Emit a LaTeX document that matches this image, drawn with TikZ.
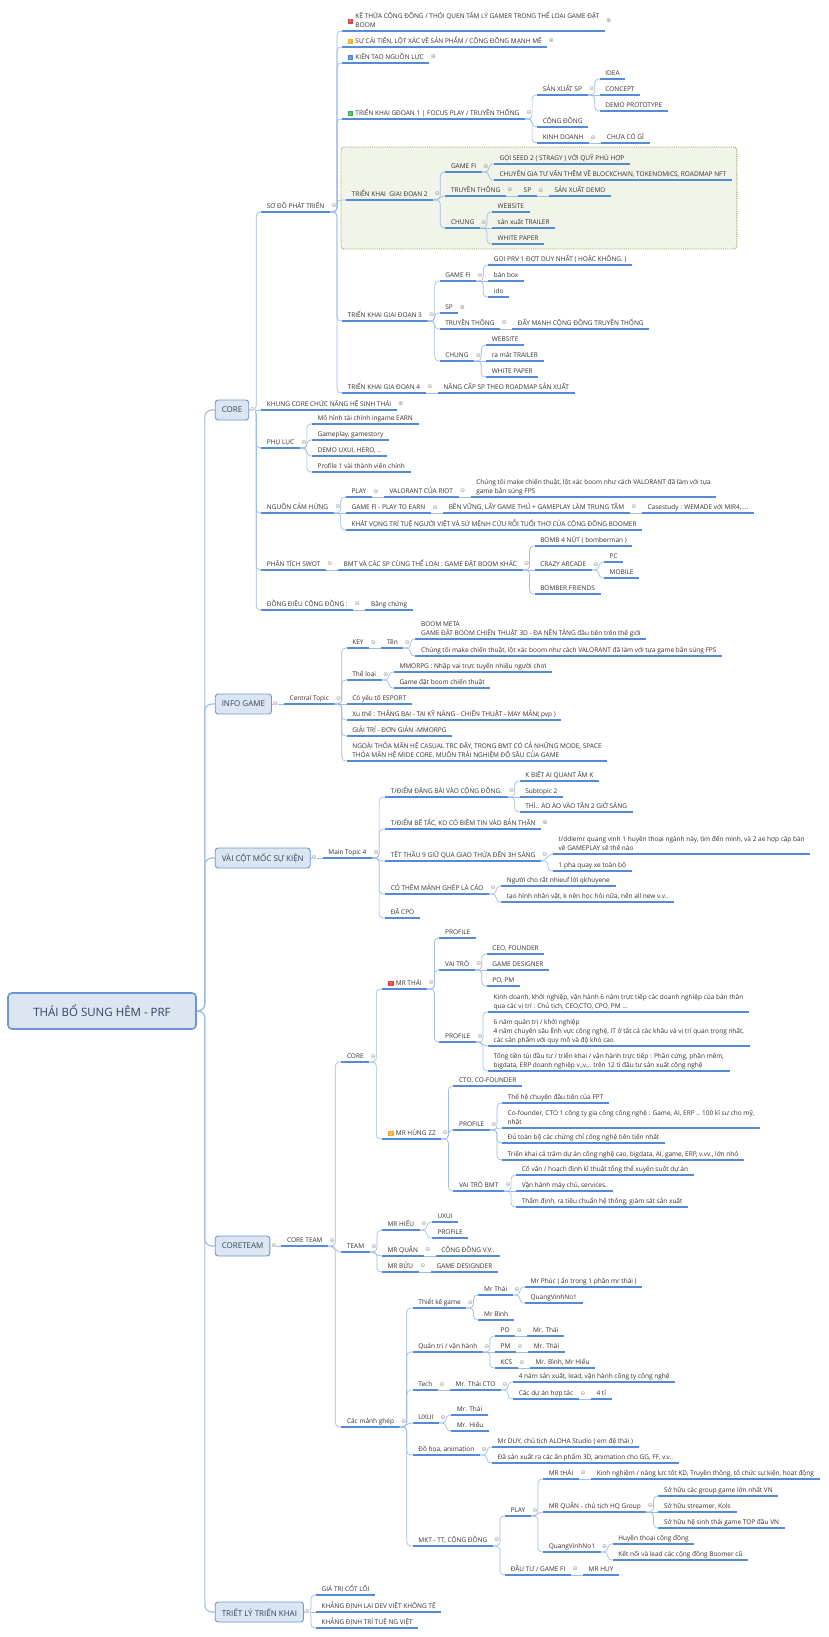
\documentclass[tikz,border=0pt]{standalone}
\usepackage{fontspec}
\setmainfont{Open Sans}
\newfontfamily\symfont{DejaVu Sans}
\usetikzlibrary{fit,backgrounds}

\definecolor{ink}{RGB}{50,50,50}
\definecolor{ulinec}{RGB}{84,138,214}
\definecolor{linkc}{RGB}{158,189,232}
\definecolor{boxfill}{RGB}{220,230,243}
\definecolor{boxline}{RGB}{104,150,214}
\definecolor{boxtext}{RGB}{50,68,96}
\definecolor{zonefill}{RGB}{241,244,232}
\definecolor{zoneline}{RGB}{138,162,78}
\definecolor{foldc}{RGB}{150,150,150}
\definecolor{pRed}{RGB}{228,70,70}
\definecolor{pOrange}{RGB}{246,172,40}
\definecolor{pBlue}{RGB}{70,132,232}
\definecolor{pGreen}{RGB}{58,178,72}

% small numbered tag in front of a topic
\newcommand\prio[2]{{\setlength\fboxsep{1pt}\colorbox{#1}{\makebox[3.8pt]{\color{white}\fontsize{4}{4}\selectfont #2}}}\hspace{2pt}}

\begin{document}
\begin{tikzpicture}[x=1pt, y=-1pt,
    topic/.style={anchor=south west, align=left, text=ink, font=\fontsize{6.5}{9}\selectfont,
        inner xsep=5.5pt, inner ysep=2pt, text depth=1.5pt,
        append after command={(\tikzlastnode.south west) edge[topicline] (\tikzlastnode.south east)}},
    topicline/.style={draw=ulinec, line width=1.3pt},
    mainbox/.style={anchor=west, draw=boxline, line width=0.9pt, fill=boxfill, rounded corners=3pt,
        minimum height=20pt, inner xsep=6.5pt, text=boxtext, font=\fontsize{8}{9}\selectfont},
    rootbox/.style={draw=boxline, line width=1.6pt, fill=boxfill, rounded corners=4pt,
        minimum width=188pt, minimum height=36pt, text=boxtext, font=\fontsize{11.5}{12}\selectfont},
    link/.style={draw=linkc, line width=0.7pt, rounded corners=4pt},
    trunk/.style={draw=linkc, line width=1.1pt, rounded corners=7pt},
    fold/.style={inner sep=0pt, text=foldc, font=\symfont\fontsize{6}{6}\selectfont},
    zone/.style={draw=zoneline, densely dotted, line width=0.9pt, fill=zonefill, rounded corners=3pt, inner sep=5pt}
]
\useasboundingbox (0,0) rectangle (829,1637);

% centre and main branches
\node[rootbox] (root) at (102,1011) {THÁI BỔ SUNG HÊM - PRF};
\path (root.east) ++(18,-601) node[mainbox] (core) {CORE};
\path (root.east) ++(18,-307) node[mainbox] (info) {INFO GAME};
\path (root.east) ++(18,-153) node[mainbox] (moc) {VÀI CỘT MỐC SỰ KIỆN};
\path (root.east) ++(18,235) node[mainbox] (coreteam) {CORETEAM};
\path (root.east) ++(18,601) node[mainbox] (triet) {TRIẾT LÝ TRIỂN KHAI};

% CORE
\path (core.east) ++(12,-198) node[topic] (sodo) {SƠ ĐỒ PHÁT TRIỂN};
\path (core.east) ++(12,0) node[topic] (khung) {KHUNG CORE CHỨC NĂNG HỆ SINH THÁI};
\path (core.east) ++(12,38) node[topic] (phuluc) {PHỤ LỤC};
\path (core.east) ++(12,103) node[topic] (nguon) {NGUỒN CẢM HỨNG};
\path (core.east) ++(12,160) node[topic] (swot) {PHÂN TÍCH SWOT};
\path (core.east) ++(12,200) node[topic] (dongdieu) {ĐỒNG ĐIỆU CỘNG ĐỒNG :};

\path (sodo.south east) ++(12,-181) node[topic] (k1) {\raisebox{4.5pt}{\prio{pRed}{1}}\begin{tabular}[b]{@{}l@{}}KẾ THỪA CỘNG ĐỒNG / THÓI QUEN TÂM LÝ GAMER TRONG THỂ LOẠI GAME ĐẶT\\BOOM\end{tabular}};
\path (sodo.south east) ++(12,-165) node[topic] (k2) {\prio{pOrange}{2}SỰ CẢI TIẾN, LỘT XÁC VỀ SẢN PHẨM / CỘNG ĐỒNG MẠNH MẼ};
\path (sodo.south east) ++(12,-149) node[topic] (k3) {\prio{pBlue}{3}KIẾN TẠO NGUỒN LỰC};
\path (sodo.south east) ++(12,-93) node[topic] (gd1) {\prio{pGreen}{4}TRIỂN KHAI GĐOAN 1 | FOCUS PLAY / TRUYỀN THỐNG};
\path (sodo.south east) ++(16,-12) node[topic] (gd2) {TRIỂN KHAI\ \ GIAI ĐOẠN 2};
\path (sodo.south east) ++(12,109) node[topic] (gd3) {TRIỂN KHAI GIAI ĐOẠN 3};
\path (sodo.south east) ++(12,181) node[topic] (gd4) {TRIỂN KHAI GIA ĐOẠN 4};

\path (gd1.south east) ++(12,-24) node[topic] (sxsp) {SẢN XUẤT SP};
\path (gd1.south east) ++(12,8) node[topic] (congdong) {CỘNG ĐỒNG};
\path (gd1.south east) ++(12,24) node[topic] (kinhdoanh) {KINH DOANH};
\path (sxsp.south east) ++(12,-16) node[topic] (idea) {IDEA};
\path (sxsp.south east) ++(12,0) node[topic] (concept) {CONCEPT};
\path (sxsp.south east) ++(12,16) node[topic] (demo) {DEMO PROTOTYPE};
\path (kinhdoanh.south east) ++(12,0) node[topic] (chuaco) {CHƯA CÓ GÌ};

\path (gd2.south east) ++(12,-28) node[topic] (gamefi2) {GAME FI};
\path (gd2.south east) ++(12,-4) node[topic] (truyen2) {TRUYỀN THÔNG};
\path (gd2.south east) ++(12,28) node[topic] (chung2) {CHUNG};
\path (gamefi2.south east) ++(12,-8) node[topic] (seed) {GỌI SEED 2 ( STRAGY ) VỚI QUỸ PHÙ HỢP};
\path (gamefi2.south east) ++(12,8) node[topic] (chuyengia) {CHUYÊN GIA TƯ VẤN THÊM VỀ BLOCKCHAIN, TOKENOMICS, ROADMAP NFT};
\path (truyen2.south east) ++(12,0) node[topic] (sp2) {SP};
\path (sp2.south east) ++(12,0) node[topic] (sxdemo) {SẢN XUẤT DEMO};
\path (chung2.south east) ++(12,-16) node[topic] (web2) {WEBSITE};
\path (chung2.south east) ++(12,0) node[topic] (trailer2) {sản xuất TRAILER};
\path (chung2.south east) ++(12,16) node[topic] (paper2) {WHITE PAPER};

\path (gd3.south east) ++(12,-40) node[topic] (gamefi3) {GAME FI};
\path (gd3.south east) ++(12,-8) node[topic] (sp3) {SP};
\path (gd3.south east) ++(12,8) node[topic] (truyen3) {TRUYỀN THÔNG};
\path (gd3.south east) ++(12,40) node[topic] (chung3) {CHUNG};
\path (gamefi3.south east) ++(12,-16) node[topic] (prv) {GỌI PRV 1 ĐỢT DUY NHẤT ( HOẶC KHÔNG. )};
\path (gamefi3.south east) ++(12,0) node[topic] (banbox) {bán box};
\path (gamefi3.south east) ++(12,16) node[topic] (ido) {ido};
\path (truyen3.south east) ++(12,0) node[topic] (daymanh) {ĐẨY MẠNH CỘNG ĐỒNG TRUYỀN THỐNG};
\path (chung3.south east) ++(12,-16) node[topic] (web3) {WEBSITE};
\path (chung3.south east) ++(12,0) node[topic] (trailer3) {ra mắt TRAILER};
\path (chung3.south east) ++(12,16) node[topic] (paper3) {WHITE PAPER};
\path (gd4.south east) ++(12,0) node[topic] (nangcap) {NÂNG CẤP SP THEO ROADMAP SẢN XUẤT};

\path (phuluc.south east) ++(12,-24) node[topic] (pl1) {Mô hình tài chính ingame EARN};
\path (phuluc.south east) ++(12,-8) node[topic] (pl2) {Gameplay, gamestory};
\path (phuluc.south east) ++(12,8) node[topic] (pl3) {DEMO UXUI, HERO, ..};
\path (phuluc.south east) ++(12,24) node[topic] (pl4) {Profile 1 vài thành viên chính};

\path (nguon.south east) ++(12,-16) node[topic] (play) {PLAY};
\path (nguon.south east) ++(12,0) node[topic] (gamefi) {GAME FI - PLAY TO EARN};
\path (nguon.south east) ++(12,17) node[topic] (khatvong) {KHÁT VỌNG TRÍ TUỆ NGƯỜI VIỆT VÀ SỨ MỆNH CỨU RỖI TUỔI THƠ CỦA CỘNG ĐỒNG BOOMER};
\path (play.south east) ++(12,0) node[topic] (valorant) {VALORANT CỦA RIOT};
\path (valorant.south east) ++(12,0) node[topic] (chungtoi) {Chúng tôi make chiến thuật, lột xác boom như cách VALORANT đã làm với tựa\\game bắn súng FPS};
\path (gamefi.south east) ++(12,0) node[topic] (benvung) {BỀN VỮNG, LẤY GAME THỦ + GAMEPLAY LÀM TRUNG TÂM};
\path (benvung.south east) ++(12,0) node[topic] (casestudy) {Casestudy : WEMADE với MIR4, ...};

\path (swot.south east) ++(12,0) node[topic] (bmt) {BMT VÀ CÁC SP CÙNG THỂ LOẠI : GAME ĐẶT BOOM KHÁC};
\path (bmt.south east) ++(12,-24) node[topic] (bomb4) {BOMB 4 NÚT ( bomberman )};
\path (bmt.south east) ++(12,0) node[topic] (crazy) {CRAZY ARCADE};
\path (bmt.south east) ++(12,24) node[topic] (bomberf) {BOMBER FRIENDS};
\path (crazy.south east) ++(12,-8) node[topic] (pc) {PC};
\path (crazy.south east) ++(12,8) node[topic] (mobile) {MOBILE};
\path (dongdieu.south east) ++(12,0) node[topic] (bangchung) {Bằng chứng};

% INFO GAME
\path (info.east) ++(12,0) node[topic] (central) {Central Topic};
\path (central.south east) ++(12,-56) node[topic] (key) {KEY};
\path (central.south east) ++(12,-24) node[topic] (theloai) {Thể loại};
\path (central.south east) ++(12,0) node[topic] (esport) {Có yếu tố ESPORT};
\path (central.south east) ++(12,16) node[topic] (xuthe) {Xu thế : THẮNG BẠI - TẠI KỸ NĂNG - CHIẾN THUẬT - MAY MẮN( pvp )};
\path (central.south east) ++(12,32) node[topic] (giaitri) {GIẢI TRÍ - ĐƠN GIẢN -MMORPG};
\path (central.south east) ++(12,57) node[topic] (ngoai) {NGOÀI THỎA MÃN HỆ CASUAL TRC ĐÂY, TRONG BMT CÓ CẢ NHỮNG MODE, SPACE\\THỎA MÃN HỆ MIDE CORE, MUỐN TRẢI NGHIỆM ĐỘ SÂU CỦA GAME};
\path (key.south east) ++(12,0) node[topic] (ten) {Tên};
\path (ten.south east) ++(12,-9) node[topic] (boommeta) {BOOM META\\GAME ĐẶT BOOM CHIẾN THUẬT 3D - ĐA NỀN TẢNG đầu tiên trên thế giới};
\path (ten.south east) ++(12,8) node[topic] (chungtoi2) {Chúng tôi make chiến thuật, lột xác boom như cách VALORANT đã làm với tựa game bắn súng FPS};
\path (theloai.south east) ++(12,-8) node[topic] (mmorpg) {MMORPG : Nhập vai trực tuyến nhiều người chơi};
\path (theloai.south east) ++(12,8) node[topic] (gamedat) {Game đặt boom chiến thuật};

% VÀI CỘT MỐC SỰ KIỆN
\path (moc.east) ++(12,0) node[topic] (main4) {Main Topic 4};
\path (main4.south east) ++(13,-61) node[topic] (tdiem1) {T/ĐIỂM ĐĂNG BÀI VÀO CỘNG ĐỒNG.};
\path (main4.south east) ++(13,-29) node[topic] (tdiem2) {T/ĐIỂM BẾ TẮC, KO CÓ BIỀM TIN VÀO BẢN THÂN};
\path (main4.south east) ++(13,3) node[topic] (tet) {TẾT THẦU 9 GIỮ QUA GIAO THỪA ĐẾN 3H SÁNG};
\path (main4.south east) ++(13,36) node[topic] (cothem) {CÓ THÊM MẢNH GHÉP LÀ CÁO};
\path (main4.south east) ++(13,60) node[topic] (dacpo) {ĐÃ CPO};
\path (tdiem1.south east) ++(12,-16) node[topic] (kbiet) {K BIẾT AI QUANT ÂM K};
\path (tdiem1.south east) ++(12,0) node[topic] (subtopic) {Subtopic 2};
\path (tdiem1.south east) ++(12,15) node[topic] (thi) {THÌ.. ÀO ÀO VÀO TẬN 2 GIỜ SÁNG};
\path (tet.south east) ++(12,-7) node[topic] (quangvinh) {t/ddiemr quang vinh 1 huyền thoại ngành này, tìm đến mình, và 2 ae hợp cặp bàn\\về GAMEPLAY sẽ thế nào};
\path (tet.south east) ++(12,10) node[topic] (pha) {1 pha quay xe toàn bộ};
\path (cothem.south east) ++(12,-8) node[topic] (nguoicho) {Người cho rất nhieuf lời qkhuyene};
\path (cothem.south east) ++(12,8) node[topic] (taohinh) {tạo hình nhân vật, k nên học hỏi nữa, nên all new v.v..};

% CORETEAM
\path (coreteam.east) ++(11,0) node[topic] (cteam) {CORE TEAM};
\path (cteam.south east) ++(13,-184) node[topic] (core2) {CORE};
\path (cteam.south east) ++(13,6) node[topic] (team) {TEAM};
\path (cteam.south east) ++(13,181) node[topic] (manhghep) {Các mảnh ghép};

\path (core2.south east) ++(13,-73) node[topic] (mrthai) {\prio{pRed}{1}MR THÁI};
\path (core2.south east) ++(13,77) node[topic] (mrhung) {\prio{pOrange}{2}MR HÙNG ZZ};
\path (mrthai.south east) ++(12,-51) node[topic] (profile1) {PROFILE};
\path (mrthai.south east) ++(12,-19) node[topic] (vaitro) {VAI TRÒ};
\path (mrthai.south east) ++(12,53) node[topic] (profile2) {PROFILE};
\path (vaitro.south east) ++(12,-16) node[topic] (ceo) {CEO, FOUNDER};
\path (vaitro.south east) ++(12,0) node[topic] (gdesigner) {GAME DESIGNER};
\path (vaitro.south east) ++(12,16) node[topic] (popm) {PO, PM};
\path (profile2.south east) ++(12,-30) node[topic] (kd2) {Kinh doanh, khởi nghiệp, vận hành 6 năm trực tiếp các doanh nghiệp của bản thân\\qua các vị trí : Chủ tịch, CEO,CTO, CPO, PM ...};
\path (profile2.south east) ++(12,4) node[topic] (sixnam) {6 năm quản trị / khởi nghiệp\\4 năm chuyên sâu lĩnh vực công nghệ, IT ở tất cả các khâu và vị trí quan trọng nhất,\\các sản phẩm với quy mô và độ khó cao};
\path (profile2.south east) ++(12,29) node[topic] (tongtien) {Tổng tiền túi đầu tư / triển khai / vận hành trực tiếp : Phần cứng, phần mềm,\\bigdata, ERP doanh nghiệp v.,v.,. trên 12 tỉ đầu tư sản xuất công nghệ};

\path (mrhung.south east) ++(12,-53) node[topic] (cto) {CTO, CO-FOUNDER};
\path (mrhung.south east) ++(12,-9) node[topic] (profile3) {PROFILE};
\path (mrhung.south east) ++(12,52) node[topic] (vaitrobmt) {VAI TRÒ BMT};
\path (profile3.south east) ++(12,-27) node[topic] (thehe) {Thế hệ chuyên đầu tiên của FPT};
\path (profile3.south east) ++(12,-2) node[topic] (cofounder) {Co-founder, CTO 1 công ty gia công công nghệ : Game, AI, ERP .. 100 kĩ sư cho mỹ,\\nhật};
\path (profile3.south east) ++(12,13) node[topic] (du) {Đủ toàn bộ các chứng chỉ công nghệ tiên tiến nhất};
\path (profile3.south east) ++(12,30) node[topic] (trienkhai) {Triển khai cả trăm dự án công nghệ cao, bigdata, AI, game, ERP, v.vv., lớn nhỏ};
\path (vaitrobmt.south east) ++(12,-16) node[topic] (covan) {Cố vấn / hoạch định kĩ thuật tổng thể xuyên suốt dự án};
\path (vaitrobmt.south east) ++(12,0) node[topic] (vanhanh) {Vận hành máy chủ, services.};
\path (vaitrobmt.south east) ++(12,16) node[topic] (thamdinh) {Thẩm định, ra tiêu chuẩn hệ thống, giám sát sản xuất};

\path (team.south east) ++(12,-22) node[topic] (mrhieu) {MR HIẾU};
\path (team.south east) ++(12,4) node[topic] (mrquan) {MR QUÂN};
\path (team.south east) ++(12,20) node[topic] (mrbuu) {MR BỬU};
\path (mrhieu.south east) ++(12,-8) node[topic] (uxui1) {UXUI};
\path (mrhieu.south east) ++(12,8) node[topic] (profile4) {PROFILE};
\path (mrquan.south east) ++(12,0) node[topic] (congdongvv) {CỘNG ĐỒNG V.V..};
\path (mrbuu.south east) ++(12,0) node[topic] (gdesignder) {GAME DESIGNDER};

\path (manhghep.south east) ++(13,-119) node[topic] (tkgame) {Thiết kế game};
\path (manhghep.south east) ++(13,-75) node[topic] (quantri) {Quản trị / vận hành};
\path (manhghep.south east) ++(13,-37) node[topic] (tech) {Tech};
\path (manhghep.south east) ++(13,-4) node[topic] (uxui2) {UXUI};
\path (manhghep.south east) ++(13,28) node[topic] (dohoa) {Đồ họa, animation};
\path (manhghep.south east) ++(13,119) node[topic] (mkt) {MKT - TT, CỘNG ĐỒNG};
\path (tkgame.south east) ++(12,-13) node[topic] (mrthai2) {Mr Thái};
\path (tkgame.south east) ++(12,12) node[topic] (mrbinh) {Mr Bình};
\path (mrthai2.south east) ++(12,-8) node[topic] (mrphuc) {Mr Phúc ( ẩn trong 1 phần mr thái )};
\path (mrthai2.south east) ++(12,8) node[topic] (qv1) {QuangVinhNo1};
\path (quantri.south east) ++(12,-16) node[topic] (po) {PO};
\path (quantri.south east) ++(12,0) node[topic] (pm) {PM};
\path (quantri.south east) ++(12,16) node[topic] (kcs) {KCS};
\path (po.south east) ++(12,0) node[topic] (pothai) {Mr. Thái};
\path (pm.south east) ++(12,0) node[topic] (pmthai) {Mr. Thái};
\path (kcs.south east) ++(12,0) node[topic] (kcsbinh) {Mr. Bình, Mr Hiếu};
\path (tech.south east) ++(12,0) node[topic] (thaicto) {Mr. Thái CTO};
\path (thaicto.south east) ++(12,-8) node[topic] (bonam) {4 năm sản xuất, lead, vận hành công ty công nghệ};
\path (thaicto.south east) ++(12,9) node[topic] (cacduan) {Các dự án hợp tác};
\path (cacduan.south east) ++(12,0) node[topic] (bonti) {4 tỉ};
\path (uxui2.south east) ++(12,-8) node[topic] (uxthai) {Mr. Thái};
\path (uxui2.south east) ++(12,8) node[topic] (uxhieu) {Mr. Hiếu};
\path (dohoa.south east) ++(12,-8) node[topic] (mrduy) {Mr DUY, chủ tịch ALOHA Studio ( em đệ thái )};
\path (dohoa.south east) ++(12,8) node[topic] (dasanxuat) {Đã sản xuất ra các ấn phẩm 3D, animation cho GG, FF, v.v..};
\path (mkt.south east) ++(12,-30) node[topic] (play2) {PLAY};
\path (mkt.south east) ++(12,29) node[topic] (dautu) {ĐẦU TƯ / GAME FI};
\path (play2.south east) ++(12,-37) node[topic] (mrthai3) {MR tHÁI};
\path (play2.south east) ++(12,-4) node[topic] (mrquan2) {MR QUÂN - chủ tịch HQ Group};
\path (play2.south east) ++(12,36) node[topic] (qv2) {QuangVinhNo1};
\path (mrthai3.south east) ++(12,0) node[topic] (kinhnghiem) {Kinh nghiệm / năng lực tốt KD, Truyền thông, tổ chức sự kiện, hoạt động};
\path (mrquan2.south east) ++(12,-16) node[topic] (sohuu1) {Sở hữu các group game lớn nhất VN};
\path (mrquan2.south east) ++(12,0) node[topic] (sohuu2) {Sở hữu streamer, Kols};
\path (mrquan2.south east) ++(12,16) node[topic] (sohuu3) {Sở hữu hệ sinh thái game TOP đầu VN};
\path (qv2.south east) ++(12,-8) node[topic] (huyenthoai) {Huyền thoại cộng đồng};
\path (qv2.south east) ++(12,8) node[topic] (ketnoi) {Kết nối và lead các cộng đồng Boomer cũ};
\path (dautu.south east) ++(12,0) node[topic] (mrhuy) {MR HUY};

% TRIẾT LÝ TRIỂN KHAI
\path (triet.east) ++(12,-17) node[topic] (giatri) {GIÁ TRỊ CỐT LÕI};
\path (triet.east) ++(12,0) node[topic] (khangdinh1) {KHẲNG ĐỊNH LẠI DEV VIỆT KHÔNG TỆ};
\path (triet.east) ++(12,16) node[topic] (khangdinh2) {KHẲNG ĐỊNH TRÍ TUỆ NG VIỆT};

% page background and the boundary round stage 2
\begin{scope}[on background layer]
  \fill[white] (0,0) rectangle (829,1637);
  \node[zone, fit=(gd2)(seed)(chuyengia)(paper2)] (stage2) {};
\end{scope}

% connectors
\foreach \b in {core,info,moc,coreteam,triet}
  \draw[trunk] (root.east) -- ++(8,0) |- (\b.west);
\foreach \a/\b in {core/sodo,core/phuluc,core/nguon,core/swot,core/dongdieu,triet/giatri,triet/khangdinh2}
  \draw[link] (\a.east) -- ++(7,0) |- (\b.south west);
\foreach \a/\b in {core/khung,info/central,moc/main4,coreteam/cteam,triet/khangdinh1}
  \draw[link] (\a.east) -- (\b.south west);

\foreach \a/\b in {sodo/k1,sodo/k2,sodo/k3,sodo/gd1,sodo/gd2,sodo/gd3,sodo/gd4,
    gd1/sxsp,gd1/congdong,gd1/kinhdoanh,sxsp/idea,sxsp/demo,
    gd2/gamefi2,gd2/chung2,gamefi2/seed,gamefi2/chuyengia,chung2/web2,chung2/paper2,
    gd3/gamefi3,gd3/sp3,gd3/truyen3,gd3/chung3,gamefi3/prv,gamefi3/ido,chung3/web3,chung3/paper3,
    phuluc/pl1,phuluc/pl2,phuluc/pl3,phuluc/pl4,nguon/play,nguon/khatvong,
    bmt/bomb4,bmt/bomberf,crazy/pc,crazy/mobile,
    central/key,central/theloai,central/xuthe,central/giaitri,central/ngoai,
    ten/boommeta,ten/chungtoi2,theloai/mmorpg,theloai/gamedat,
    main4/tdiem1,main4/tdiem2,main4/cothem,main4/dacpo,tdiem1/kbiet,tdiem1/thi,tet/pha,
    cothem/nguoicho,cothem/taohinh,
    cteam/core2,cteam/manhghep,core2/mrthai,core2/mrhung,
    mrthai/profile1,mrthai/vaitro,mrthai/profile2,vaitro/ceo,vaitro/popm,profile2/kd2,profile2/tongtien,
    mrhung/cto,mrhung/profile3,mrhung/vaitrobmt,profile3/thehe,profile3/du,profile3/trienkhai,
    vaitrobmt/covan,vaitrobmt/thamdinh,team/mrhieu,team/mrbuu,mrhieu/uxui1,mrhieu/profile4,
    manhghep/tkgame,manhghep/quantri,manhghep/tech,manhghep/dohoa,manhghep/mkt,
    tkgame/mrthai2,tkgame/mrbinh,mrthai2/mrphuc,mrthai2/qv1,quantri/po,quantri/kcs,
    thaicto/bonam,thaicto/cacduan,uxui2/uxthai,uxui2/uxhieu,dohoa/mrduy,dohoa/dasanxuat,
    mkt/play2,mkt/dautu,play2/mrthai3,play2/qv2,mrquan2/sohuu1,mrquan2/sohuu3,
    qv2/huyenthoai,qv2/ketnoi}
  \draw[link] (\a.south east) -- ++(7,0) |- (\b.south west);

\foreach \a/\b in {sxsp/concept,kinhdoanh/chuaco,truyen2/sp2,sp2/sxdemo,chung2/trailer2,
    gamefi3/banbox,truyen3/daymanh,chung3/trailer3,gd4/nangcap,nguon/gamefi,play/valorant,
    valorant/chungtoi,gamefi/benvung,benvung/casestudy,swot/bmt,bmt/crazy,dongdieu/bangchung,
    central/esport,key/ten,tdiem1/subtopic,vaitro/gdesigner,vaitrobmt/vanhanh,mrquan/congdongvv,
    mrbuu/gdesignder,quantri/pm,po/pothai,pm/pmthai,kcs/kcsbinh,tech/thaicto,cacduan/bonti,
    mrthai3/kinhnghiem,mrquan2/sohuu2,dautu/mrhuy}
  \draw[link] (\a.south east) -- (\b.south west);

% children sitting only a little off their parent's line
\foreach \a/\b in {gd2/truyen2,main4/tet,tet/quangvinh,profile2/sixnam,profile3/cofounder,
    cteam/team,team/mrquan,manhghep/uxui2,play2/mrquan2}
  \draw[link] (\a.south east) to[out=0,in=180] (\b.south west);

% fold marks
\foreach \n in {sodo,gd1,sxsp,kinhdoanh,gd2,gamefi2,truyen2,sp2,chung2,gd3,gamefi3,truyen3,chung3,gd4,
    phuluc,nguon,play,valorant,gamefi,benvung,swot,bmt,crazy,dongdieu,central,key,ten,theloai,
    main4,tdiem1,tet,cothem,cteam,core2,mrthai,vaitro,profile2,mrhung,profile3,vaitrobmt,
    team,mrhieu,mrquan,mrbuu,manhghep,tkgame,mrthai2,quantri,po,pm,kcs,tech,thaicto,cacduan,
    uxui2,dohoa,mkt,play2,mrthai3,mrquan2,qv2,dautu}
  \node[fold] at ([xshift=4pt]\n.east) {⊖};
\foreach \n in {k1,k2,k3,khung,sp3,tdiem2}
  \node[fold] at ([xshift=4pt]\n.east) {⊕};
\foreach \n in {core,info,moc,coreteam,triet}
  \node[fold, fill=white] at ([xshift=3.5pt]\n.east) {⊖};
\end{tikzpicture}
\end{document}
